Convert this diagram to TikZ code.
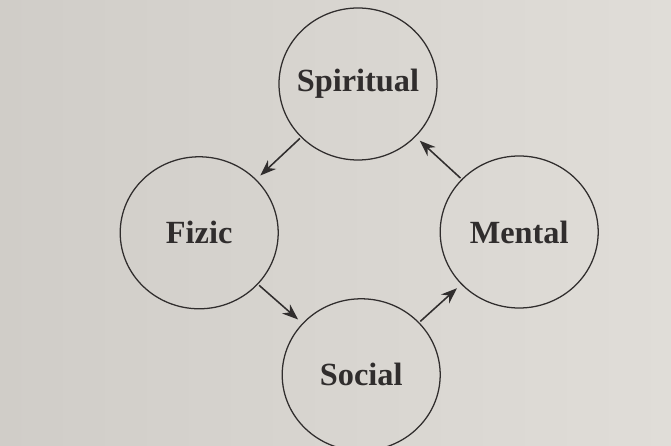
\documentclass[tikz,border=0pt]{standalone}
\usepackage{fontspec}
\setmainfont{Liberation Serif}
\usetikzlibrary{arrows.meta, shapes.geometric}
\definecolor{paper}{HTML}{E0DDD8}
\definecolor{paperdark}{HTML}{D0CDC8}
\definecolor{ink}{HTML}{302D2D}

\begin{document}
\begin{tikzpicture}[
    >={Stealth[length=4mm, width=3mm]},
    word/.style={font=\fontsize{23}{26}\selectfont\bfseries, text=ink},
    realm/.style={ellipse, draw=ink, line width=0.9pt, inner sep=0pt,
        minimum width=3.95cm, minimum height=3.8cm},
    flow/.style={->, ink, line width=1.1pt, shorten <=1pt, shorten >=4pt},
]
% page background, 671x446 px at 0.025cm per px
\shade[left color=paperdark, right color=paper]
    (0,0) rectangle (16.775,11.15);
\useasboundingbox (0,0) rectangle (16.775,11.15);
% the four circles, the word set in the middle of each
\node[realm, label={[word]center:Spiritual}] (spiritual) at (8.95,9.05) {};
\node[realm, label={[word]center:Fizic}]     (fizic)     at (4.98,5.33) {};
\node[realm, label={[word]center:Mental}]    (mental)    at (12.98,5.35) {};
\node[realm, label={[word]center:Social}]    (social)    at (9.03,1.78) {};
% cycle: spiritual -> fizic -> social -> mental -> spiritual
\draw[flow] (spiritual) -- (fizic);
\draw[flow] (fizic) -- (social);
\draw[flow] (social) -- (mental);
\draw[flow] (mental) -- (spiritual);
\end{tikzpicture}
\end{document}
